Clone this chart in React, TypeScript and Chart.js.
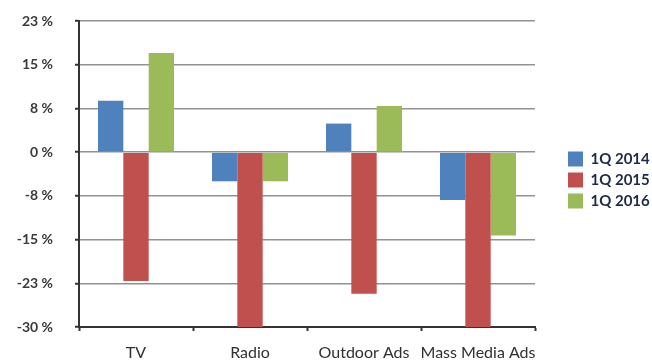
import React, { useEffect, useRef } from "react";
import { Chart, registerables } from "chart.js";

Chart.register(...registerables);

const categories = ["TV", "Radio", "Outdoor Ads", "Mass Media Ads"];
const seriesNames = ["1Q 2014", "1Q 2015", "1Q 2016"];
const q2014 = [8.8, -5, 4.9, -8.2];
const q2015 = [-22.1, -30, -24.3, -30];
const q2016 = [17, -5, 7.9, -14.3];
const seriesColors = ["#4F81BD", "#C0504D", "#9BBB59"];
const yMin = -30;
const yMax = 22.5;
const yStep = 7.5;

function pctLabel(v: number): string {
  const r = Math.round(Math.abs(v));
  return (v < 0 && r !== 0 ? "-" : "") + r + " %";
}

export default function App() {
  const ref = useRef<HTMLCanvasElement | null>(null);

  useEffect(() => {
    if (!ref.current) return;
    const values = [q2014, q2015, q2016];
    const chart = new Chart(ref.current, {
      type: "bar",
      data: {
        labels: categories,
        datasets: seriesNames.map((name, i) => ({
          label: name,
          data: values[i],
          backgroundColor: seriesColors[i],
          borderWidth: 0,
          barPercentage: 1,
          categoryPercentage: 0.667,
        })),
      },
      options: {
        responsive: false,
        animation: false,
        layout: { padding: 0 },
        plugins: {
          tooltip: { enabled: false },
          legend: {
            position: "right",
            align: "center",
            maxWidth: 90,
            labels: {
              boxWidth: 15,
              boxHeight: 15,
              padding: 6,
              color: "#1f2a48",
              font: { family: "Lato", size: 15, weight: "bold" },
            },
          },
        },
        scales: {
          x: {
            position: "bottom",
            grid: {
              display: true,
              drawOnChartArea: false,
              drawTicks: true,
              tickLength: 4,
              tickColor: "#333333",
              tickWidth: 2,
              offset: true,
            },
            border: { display: true, color: "#333333", width: 2 },
            ticks: {
              color: "#303030",
              padding: 12,
              autoSkip: false,
              font: { family: "Lato", size: 16 },
              maxRotation: 0,
            },
            afterFit: (s: any) => {
              s.height = 33;
            },
          },
          // empty band above the plot area
          x2: {
            position: "top",
            grid: { display: false },
            border: { display: false },
            ticks: { display: false },
            afterFit: (s: any) => {
              s.height = 21;
            },
          },
          y: {
            min: yMin,
            max: yMax,
            grid: {
              color: "#929292",
              lineWidth: 1.5,
              drawTicks: true,
              tickLength: 4,
              tickColor: "#333333",
              tickWidth: 2,
            },
            border: { display: true, color: "#333333", width: 2 },
            ticks: {
              stepSize: yStep,
              padding: 22,
              color: "#3a3a3a",
              font: { family: "Lato", size: 14, weight: "bold" },
              callback: (v: any) => pctLabel(Number(v)),
            },
            afterFit: (s: any) => {
              s.width = 79;
              s.paddingTop = 0;
              s.paddingBottom = 0;
            },
          },
          // gap between the plot area and the legend
          y2: {
            position: "right",
            grid: { display: false },
            border: { display: false },
            ticks: { display: false },
            afterFit: (s: any) => {
              s.width = 27;
            },
          },
        },
      },
    });
    return () => chart.destroy();
  }, []);

  return (
    <div style={{ position: "absolute", left: 0, top: 0, width: 652, height: 360, background: "#ffffff" }}>
      <canvas ref={ref} width={652} height={360} />
    </div>
  );
}
